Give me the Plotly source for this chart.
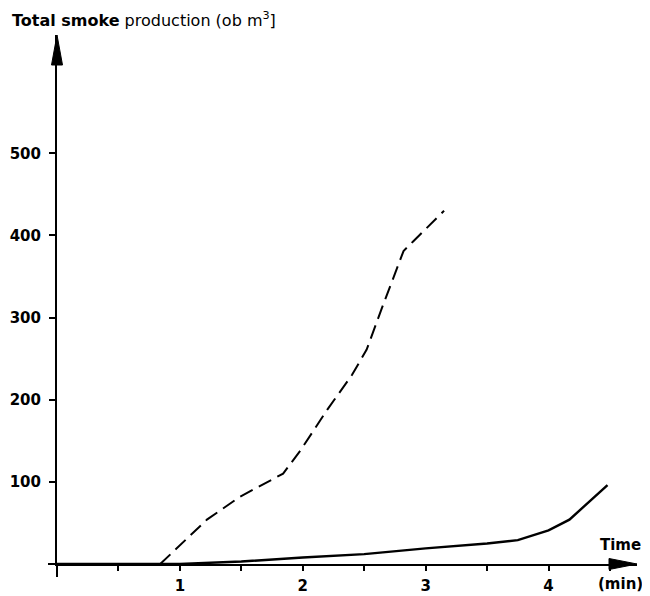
import plotly.graph_objects as go

# ---- data ----
time_dashed = [0.84, 1.22, 1.49, 1.84, 1.98, 2.2, 2.4, 2.52, 2.64, 2.73, 2.82, 2.9, 3.15]
smoke_dashed = [0, 54, 82, 110, 138, 188, 230, 261, 310, 346, 381, 393, 430]

time_solid = [0, 1.0, 1.5, 2.0, 2.5, 3.0, 3.5, 3.75, 4.0, 4.17, 4.48]
smoke_solid = [0, 0, 3, 8, 12, 19, 25, 29, 41, 54, 96]

x_tickvals = [1, 2, 3, 4]
x_ticktext = ["1", "2", "3", "4"]
x_minor_tickvals = [0.5, 1.5, 2.5, 3.5, 4.5]
y_tickvals = [100, 200, 300, 400, 500]
y_ticktext = ["100", "200", "300", "400", "500"]

# ---- layout geometry (page body has an 8px margin, compensated here) ----
OFF = 8
W, H = 650, 596
ML, MR, MT, MB = 57 - OFF, 13 + OFF, 35 - OFF, 32 + OFF
PW, PH = W - ML - MR, H - MT - MB
X_MAX, Y_MAX = 4.72, 644

FONT = "DejaVu Sans, Liberation Sans, sans-serif"

fig = go.Figure()
fig.add_trace(go.Scatter(x=time_dashed, y=smoke_dashed, mode="lines",
                         line=dict(color="black", width=2, dash="14px,7px"),
                         showlegend=False))
fig.add_trace(go.Scatter(x=time_solid, y=smoke_solid, mode="lines",
                         line=dict(color="black", width=2.4),
                         showlegend=False))

def px(dx):  # pixels -> paper x
    return dx / PW

def py(dy):  # pixels -> paper y
    return dy / PH

shapes = [
    dict(type="line", xref="paper", yref="paper", x0=px(-9), x1=0, y0=0, y1=0,
         line=dict(color="black", width=2)),
    dict(type="line", xref="paper", yref="paper", x0=0, x1=0, y0=py(-13), y1=0,
         line=dict(color="black", width=2)),
    dict(type="path", xref="paper", yref="paper",
         path=f"M {px(-5.5)} {1 - py(30)} L 0 1 L {px(5.5)} {1 - py(30)} Z",
         fillcolor="black", line=dict(color="black", width=1)),
    dict(type="path", xref="paper", yref="paper",
         path=f"M {1 - px(28)} {py(5.5)} L 1 0 L {1 - px(28)} {py(-5.5)} Z",
         fillcolor="black", line=dict(color="black", width=1)),
]

annotations = [
    dict(text="Time", xref="paper", yref="paper", x=1 + px(6), y=py(19),
         xanchor="right", yanchor="middle", showarrow=False,
         font=dict(family=FONT, size=15, color="black", weight="bold")),
    dict(text="(min)", xref="paper", yref="paper", x=1 + px(8), y=py(-20),
         xanchor="right", yanchor="middle", showarrow=False,
         font=dict(family=FONT, size=15, color="black", weight="bold")),
]

fig.update_layout(
    width=W, height=H,
    margin=dict(l=ML, r=MR, t=MT, b=MB, autoexpand=False),
    paper_bgcolor="white", plot_bgcolor="white",
    title=dict(text="<b>Total smoke</b> production (ob m<sup>3</sup>]",
               xref="container", yref="container", x=(12 - OFF) / W, y=1 - (20 - OFF) / H,
               xanchor="left", yanchor="middle",
               font=dict(family=FONT, size=16, color="black")),
    shapes=shapes, annotations=annotations,
    xaxis=dict(range=[0, X_MAX], showgrid=False, zeroline=False, automargin=False,
               showline=True, linecolor="black", linewidth=2,
               ticks="outside", ticklen=5, tickwidth=1.5, tickcolor="black",
               tickvals=x_tickvals, ticktext=x_ticktext, ticklabelstandoff=2,
               minor=dict(tickvals=x_minor_tickvals, ticks="outside", ticklen=5,
                          tickwidth=1.5, tickcolor="black", showgrid=False),
               tickfont=dict(family=FONT, size=15, color="black", weight="bold")),
    yaxis=dict(range=[0, Y_MAX], showgrid=False, zeroline=False, automargin=False,
               showline=True, linecolor="black", linewidth=2,
               ticks="outside", ticklen=6, tickwidth=1.5, tickcolor="black",
               tickvals=y_tickvals, ticktext=y_ticktext, ticklabelstandoff=5,
               tickfont=dict(family=FONT, size=15, color="black", weight="bold")),
)

fig.write_html("out.html")
